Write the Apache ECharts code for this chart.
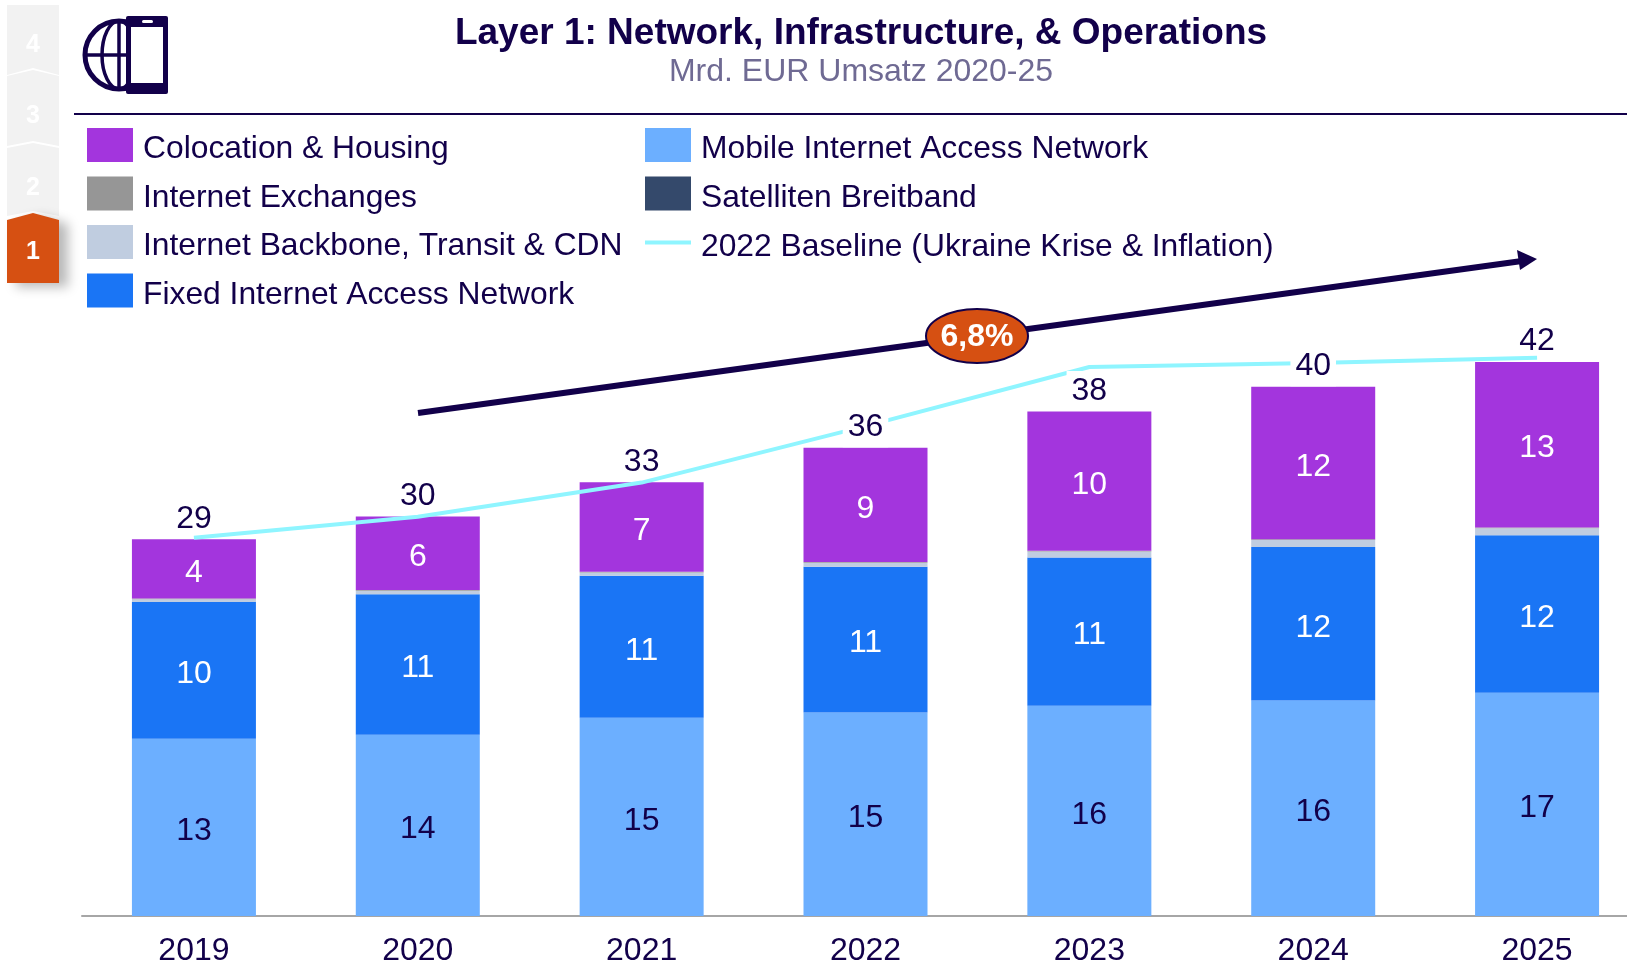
<!DOCTYPE html>
<html><head><meta charset="utf-8">
<style>html,body{margin:0;padding:0;background:#fff}#c{width:1627px;height:963px}</style>
<script src="https://cdn.jsdelivr.net/npm/echarts@6/dist/echarts.min.js"></script></head>
<body><div id="c"></div>
<script>
const years = ['2019','2020','2021','2022','2023','2024','2025'];
const mobile = [13.5,13.8,15.1,15.5,16.0,16.4,17.0];
const fixed = [10.4,10.7,10.8,11.1,11.3,11.7,12.0];
const backbone = [0.22,0.26,0.26,0.30,0.45,0.53,0.53];
const exchanges = [0.06,0.06,0.06,0.06,0.06,0.06,0.06];
const satellite = [0,0,0,0,0,0,0];
const colocation = [4.5,5.6,6.8,8.7,10.6,11.6,12.6];
const baseline = [28.8,30.4,33.0,37.3,41.8,42.1,42.5];
const mobileLabels = [13,14,15,15,16,16,17];
const fixedLabels = [10,11,11,11,11,12,12];
const colocationLabels = [4,6,7,9,10,12,13];
const totalLabels = [29,30,33,36,38,40,42];
const boxedTotals = [false,false,false,true,true,true,false];

const NAVY='#12004a', FONT='"Liberation Sans", Arial, sans-serif';
const stackTops = years.map((_,i)=>mobile[i]+fixed[i]+backbone[i]+exchanges[i]+satellite[i]+colocation[i]);
const bar=(name,data,color,labels,labelColor)=>({
  name,type:'bar',stack:'s',data,barWidth:124,
  itemStyle:{color},
  label:labels?{show:true,position:'inside',offset:[0,4],color:labelColor,fontSize:32,fontFamily:FONT,
    formatter:p=>String(labels[p.dataIndex])}:{show:false}
});
const tab=(pts,fill,extra)=>Object.assign({type:'polygon',shape:{points:pts},style:{fill}},extra||{});
const num=(t,y)=>({type:'text',x:33,y,z:20,style:{text:t,fill:'#fff',font:'bold 25px '+FONT,align:'center',verticalAlign:'middle'}});
const G='#f2f2f2';
const graphics=[
  tab([[7,5],[59,5],[59,75],[33,68],[7,75]],G),
  tab([[7,76],[33,70],[59,76],[59,146],[33,141],[7,146]],G),
  tab([[7,148],[33,143],[59,148],[59,216],[33,211],[7,216]],G),
  tab([[7,220],[33,213],[59,220],[59,283],[7,283]],'#d65012',{style:{fill:'#d65012',shadowBlur:12,shadowColor:'rgba(0,0,0,0.28)',shadowOffsetX:9,shadowOffsetY:4}}),
  num('4',45),num('3',116),num('2',188),num('1',252),
  // icon
  {type:'circle',shape:{cx:119,cy:55,r:34},style:{fill:'none',stroke:NAVY,lineWidth:5}},
  {type:'ellipse',shape:{cx:119,cy:55,rx:17,ry:34},style:{fill:'none',stroke:NAVY,lineWidth:3.5}},
  {type:'line',shape:{x1:85,y1:55,x2:153,y2:55},style:{stroke:NAVY,lineWidth:3.5}},
  {type:'line',shape:{x1:119,y1:21,x2:119,y2:89},style:{stroke:NAVY,lineWidth:3.5}},
  {type:'rect',shape:{x:126,y:16,width:42,height:78,r:2},style:{fill:NAVY}},
  {type:'rect',shape:{x:131,y:27,width:32,height:56},style:{fill:'#fff'}},
  {type:'rect',shape:{x:142,y:20,width:11,height:3,r:1.5},style:{fill:'#fff'}},
  // header rule
  {type:'line',shape:{x1:74,y1:114,x2:1627,y2:114},style:{stroke:NAVY,lineWidth:2}},
  // trend arrow
  {type:'line',z:15,shape:{x1:418,y1:413,x2:1522,y2:261},style:{stroke:NAVY,lineWidth:6}},
  {type:'polygon',z:15,shape:{points:[[1537,259],[1517,250],[1520,270]]},style:{fill:NAVY}},
  {type:'ellipse',z:16,shape:{cx:977,cy:336,rx:51,ry:27},style:{fill:'#d65012',stroke:NAVY,lineWidth:2}},
  {type:'text',z:17,x:977,y:337,style:{text:'6,8%',fill:'#fff',font:'bold 32px '+FONT,align:'center',verticalAlign:'middle'}}
];
const chart=echarts.init(document.getElementById('c'),null,{renderer:'canvas'});
const legendBase={orient:'vertical',top:123,itemWidth:46,itemHeight:34,itemGap:11,selectedMode:false,icon:'rect',
  formatter:n=>'{a|'+n+'}',
  textStyle:{color:NAVY,fontSize:31.8,fontFamily:FONT,
    rich:{a:{color:NAVY,fontSize:31.8,fontFamily:FONT,padding:[9,0,0,5]}}}};
chart.setOption({
  animation:false,backgroundColor:'#fff',
  textStyle:{fontFamily:FONT},
  title:[
    {text:'Layer 1: Network, Infrastructure, & Operations',left:856,top:10,textAlign:'center',
     textStyle:{color:NAVY,fontSize:37,fontWeight:'bold',fontFamily:FONT}},
    {text:'Mrd. EUR Umsatz 2020-25',left:856,top:51,textAlign:'center',
     textStyle:{color:'#6f6a93',fontSize:32,fontWeight:'normal',fontFamily:FONT}}
  ],
  legend:[
    Object.assign({},legendBase,{left:82,data:['Colocation & Housing','Internet Exchanges','Internet Backbone, Transit & CDN','Fixed Internet Access Network']}),
    Object.assign({},legendBase,{left:640,data:['Mobile Internet Access Network','Satelliten Breitband']}),
    Object.assign({},legendBase,{left:640,top:226,data:[{name:'2022 Baseline (Ukraine Krise & Inflation)',icon:'path://M0 0H46V4H0Z'}]})
  ],
  grid:{left:82,width:1567,top:128,height:788,containLabel:false,outerBoundsMode:'none'},
  xAxis:{type:'category',data:years,axisTick:{show:false},
    axisLine:{lineStyle:{color:'#a6a6a6',width:2}},
    axisLabel:{color:NAVY,fontSize:32,fontFamily:FONT,margin:19}},
  yAxis:{type:'value',min:0,max:60,show:false,splitLine:{show:false}},
  series:[
    bar('Mobile Internet Access Network',mobile,'#6cafff',mobileLabels,NAVY),
    bar('Fixed Internet Access Network',fixed,'#1a75f5',fixedLabels,'#fff'),
    bar('Internet Backbone, Transit & CDN',backbone,'#c0cde0'),
    bar('Internet Exchanges',exchanges,'#969696'),
    bar('Satelliten Breitband',satellite,'#34496b'),
    bar('Colocation & Housing',colocation,'#a335dd',colocationLabels,'#fff'),
    {name:'2022 Baseline (Ukraine Krise & Inflation)',type:'line',data:baseline,symbol:'none',z:5,
      itemStyle:{color:'#8ff5ff'},lineStyle:{color:'#8ff5ff',width:4}},
    {name:'Gesamt',type:'line',z:6,symbol:'circle',symbolSize:1,showSymbol:true,showAllSymbol:true,
      lineStyle:{opacity:0},itemStyle:{color:'rgba(0,0,0,0)'},
      data:stackTops.map((v,i)=>({value:v,label:{backgroundColor:boxedTotals[i]?'#fff':'transparent'}})),
      label:{show:true,position:'top',distance:3,offset:[0,3],color:NAVY,fontSize:32,fontFamily:FONT,padding:[4,5,4,5],
        formatter:p=>String(totalLabels[p.dataIndex])}}
  ],
  graphic:graphics
});
</script></body></html>
